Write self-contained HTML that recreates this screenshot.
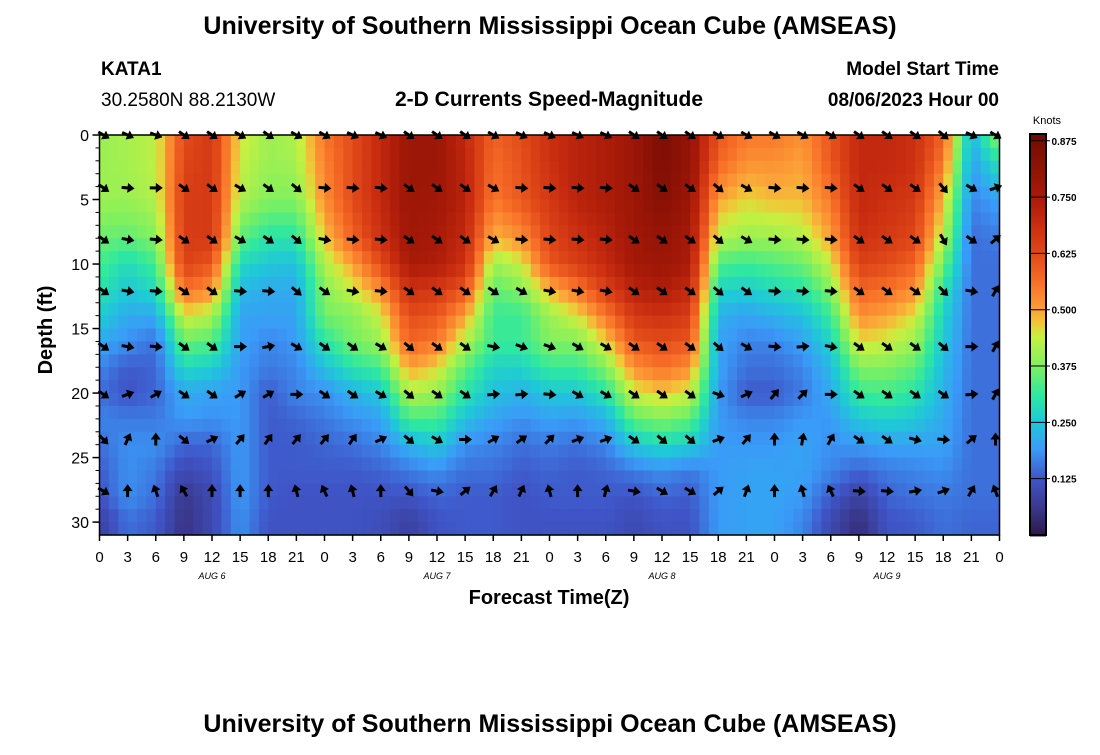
<!DOCTYPE html>
<html><head><meta charset="utf-8">
<style>
body{margin:0;background:#fff;width:1100px;height:750px;overflow:hidden;font-family:"Liberation Sans",Arial,sans-serif}
svg text{font-family:"Liberation Sans",Arial,sans-serif}
</style></head><body>
<svg id="chart" width="1100" height="750" xmlns="http://www.w3.org/2000/svg">
<text x="550" y="34" font-size="25" font-weight="bold" text-anchor="middle">University of Southern Mississippi Ocean Cube (AMSEAS)</text>
<text x="101" y="75" font-size="19" font-weight="bold">KATA1</text>
<text x="101" y="106" font-size="19">30.2580N  88.2130W</text>
<text x="549" y="106" font-size="21" font-weight="bold" text-anchor="middle">2-D Currents Speed-Magnitude</text>
<text x="999" y="75" font-size="19" font-weight="bold" text-anchor="end">Model Start Time</text>
<text x="999" y="106" font-size="19" font-weight="bold" text-anchor="end">08/06/2023 Hour 00</text>
<g id="heat"></g>
<g id="arrows"></g>
<g id="axes"></g>
<g id="cbar"></g>
<text transform="translate(52,330) rotate(-90)" font-size="20" font-weight="bold" text-anchor="middle">Depth (ft)</text>
<text x="549" y="604" font-size="20" font-weight="bold" text-anchor="middle">Forecast Time(Z)</text>
<text x="550" y="732" font-size="25" font-weight="bold" text-anchor="middle">University of Southern Mississippi Ocean Cube (AMSEAS)</text>
</svg>
<script>
// data
const times=[0,3,6,9,12,15,18,21,24,27,30,33,36,39,42,45,48,51,54,57,60,63,66,69,72,75,78,81,84,87,90,93,96];
const depths=[0,2,5,8,10,12,14,16,18,20,22,24,26,28,30];
const speedT0=[.40,.40,.40,.36,.33,.30,.26,.21,.17,.15,.17,.15,.13,.12,.08];
const speedT3=[.41,.41,.40,.35,.28,.25,.21,.18,.13,.12,.16,.18,.18,.18,.15];
const speedT6=[.43,.43,.42,.38,.33,.28,.21,.15,.14,.14,.16,.18,.16,.15,.13];
const speedT9=[.62,.63,.65,.65,.64,.56,.45,.36,.28,.21,.19,.14,.10,.06,.05];
const speedT12=[.66,.66,.66,.66,.60,.52,.42,.34,.26,.20,.18,.14,.12,.10,.10];
const speedT15=[.45,.44,.42,.35,.28,.23,.20,.20,.19,.19,.19,.19,.19,.19,.18];
const speedT18=[.40,.40,.38,.30,.25,.21,.20,.17,.16,.13,.13,.13,.13,.13,.12];
const speedT21=[.42,.41,.38,.30,.24,.21,.20,.19,.17,.17,.14,.13,.13,.12,.12];
const speedT24=[.55,.54,.52,.47,.42,.38,.37,.30,.24,.18,.16,.14,.13,.12,.12];
const speedT27=[.62,.62,.62,.58,.50,.44,.38,.37,.30,.22,.18,.15,.13,.12,.12];
const speedT30=[.70,.70,.70,.68,.62,.52,.44,.40,.33,.25,.20,.17,.14,.12,.11];
const speedT33=[.78,.78,.78,.77,.75,.68,.62,.58,.50,.42,.33,.22,.16,.12,.08];
const speedT36=[.78,.78,.77,.75,.74,.66,.60,.55,.46,.40,.33,.25,.18,.14,.12];
const speedT39=[.70,.71,.72,.70,.68,.60,.50,.42,.35,.30,.24,.18,.15,.13,.13];
const speedT42=[.58,.57,.55,.48,.40,.35,.32,.32,.27,.24,.20,.17,.15,.13,.13];
const speedT45=[.62,.61,.60,.52,.44,.38,.32,.32,.27,.22,.18,.15,.13,.12,.12];
const speedT48=[.68,.68,.66,.63,.60,.48,.40,.38,.32,.25,.20,.16,.14,.13,.12];
const speedT51=[.72,.72,.72,.68,.65,.55,.45,.38,.32,.25,.19,.15,.13,.13,.12];
const speedT54=[.74,.74,.74,.72,.70,.64,.55,.46,.38,.30,.22,.17,.14,.13,.12];
const speedT57=[.78,.78,.78,.77,.76,.72,.66,.60,.52,.44,.35,.25,.16,.12,.10];
const speedT60=[.86,.86,.84,.80,.78,.74,.68,.62,.56,.47,.38,.28,.18,.14,.12];
const speedT63=[.80,.80,.78,.76,.74,.70,.65,.60,.52,.44,.35,.26,.16,.13,.12];
const speedT66=[.60,.58,.50,.42,.34,.27,.22,.20,.20,.19,.19,.19,.19,.19,.19];
const speedT69=[.55,.52,.46,.40,.32,.26,.20,.17,.15,.13,.17,.19,.20,.20,.20];
const speedT72=[.55,.52,.48,.40,.34,.28,.22,.17,.15,.13,.17,.19,.20,.20,.20];
const speedT75=[.52,.50,.48,.42,.36,.30,.24,.20,.17,.16,.19,.20,.20,.19,.17];
const speedT78=[.60,.60,.55,.50,.44,.38,.32,.27,.23,.21,.19,.18,.17,.13,.10];
const speedT81=[.70,.70,.70,.68,.64,.58,.52,.46,.38,.32,.25,.19,.14,.08,.04];
const speedT84=[.70,.70,.68,.66,.62,.56,.50,.44,.38,.33,.27,.20,.16,.14,.12];
const speedT87=[.68,.68,.66,.63,.58,.52,.45,.40,.35,.30,.25,.20,.17,.15,.13];
const speedT90=[.58,.55,.48,.42,.36,.30,.27,.25,.23,.22,.21,.20,.18,.16,.15];
const speedT93=[.22,.20,.17,.15,.15,.15,.15,.15,.15,.15,.15,.15,.15,.15,.14];
const speedT96=[.40,.30,.20,.16,.15,.15,.15,.15,.15,.15,.15,.15,.15,.15,.14];
const speedCols=[speedT0,speedT3,speedT6,speedT9,speedT12,speedT15,speedT18,speedT21,speedT24,speedT27,speedT30,speedT33,speedT36,speedT39,speedT42,speedT45,speedT48,speedT51,speedT54,speedT57,speedT60,speedT63,speedT66,speedT69,speedT72,speedT75,speedT78,speedT81,speedT84,speedT87,speedT90,speedT93,speedT96];
// arrow directions (deg, 0=east, +=clockwise) at each 3-h time, per depth row
const arrowDepths=[0,4.1,8.1,12.1,16.4,20.1,23.6,27.6];
const dirRow0=[30,25,20,35,35,30,35,30,30,25,25,35,35,35,30,25,25,25,25,35,35,35,30,30,30,30,30,35,35,35,40,25,30];
const dirRow1=[35,5,0,35,35,30,35,40,5,5,5,35,35,35,30,5,5,5,5,35,35,35,40,30,5,5,5,35,35,35,50,30,-20];
const dirRow2=[35,10,5,35,35,30,35,40,10,5,5,35,35,35,30,5,5,5,5,35,35,35,40,30,5,5,5,35,35,35,60,35,-40];
const dirRow3=[35,10,5,35,35,5,5,40,35,10,5,35,35,35,35,30,10,10,10,35,35,35,40,35,5,5,5,35,35,35,45,10,-60];
const dirRow4=[35,10,5,35,35,0,-10,30,35,35,30,40,35,35,10,20,20,30,30,35,35,35,40,30,5,-5,10,35,35,35,40,0,-60];
const dirRow5=[35,-20,-30,35,35,-30,-30,0,35,35,30,40,35,35,-5,-5,5,30,30,35,35,35,20,-25,-50,-45,0,35,35,35,35,-5,-60];
const dirRow6=[45,-65,-90,40,-25,-50,-55,-50,-50,-55,-25,40,30,0,-30,-35,-45,-20,-20,35,40,40,-20,-50,-90,-80,-60,35,35,15,5,-40,-90];
const dirRow7=[30,-90,-110,-120,-90,-90,-90,-105,-115,-105,-90,50,10,-40,-60,-65,-105,-90,-75,10,30,30,-40,-70,-90,-105,-115,5,5,-10,-20,-60,-110];
const dirRows=[dirRow0,dirRow1,dirRow2,dirRow3,dirRow4,dirRow5,dirRow6,dirRow7];
const xTickLabels=["0","3","6","9","12","15","18","21","0","3","6","9","12","15","18","21","0","3","6","9","12","15","18","21","0","3","6","9","12","15","18","21","0"];
const yTicks=[0,5,10,15,20,25,30];
const dayLabels=["AUG 6","AUG 7","AUG 8","AUG 9"];
const dayCenters=[12,36,60,84];
const cbarTicks=[0.125,0.25,0.375,0.5,0.625,0.75,0.875];

const NS="http://www.w3.org/2000/svg";
const X0=99.5,X1=999.5,Y0=135,Y1=535,TMAX=96,DMAX=31;
const xs=t=>X0+(X1-X0)*t/TMAX;
const ys=d=>Y0+(Y1-Y0)*d/DMAX;
const stops=[[0,[43,24,70]],[0.06,[58,56,140]],[0.125,[63,85,200]],[0.19,[58,155,248]],[0.25,[31,200,216]],[0.31,[46,232,160]],[0.375,[126,240,96]],[0.44,[200,240,64]],[0.47,[240,200,56]],[0.5,[252,160,56]],[0.56,[248,112,40]],[0.625,[224,72,24]],[0.69,[200,44,16]],[0.75,[168,26,8]],[0.875,[120,12,4]],[0.9,[104,8,8]]];
function color(v){
  if(v<=stops[0][0])return `rgb(${stops[0][1]})`;
  for(let i=1;i<stops.length;i++){if(v<=stops[i][0]){const a=stops[i-1],b=stops[i],f=(v-a[0])/(b[0]-a[0]);
    return `rgb(${a[1].map((c,k)=>Math.round(c+(b[1][k]-c)*f)).join(',')})`;}}
  return `rgb(${stops[stops.length-1][1]})`;
}
function mk(tag,attrs,parent){const e=document.createElementNS(NS,tag);for(const k in attrs)e.setAttribute(k,attrs[k]);parent.appendChild(e);return e;}
function idx(arr,v){let i=0;while(i<arr.length-2&&v>arr[i+1])i++;const f=Math.max(0,Math.min(1,(v-arr[i])/(arr[i+1]-arr[i])));return [i,f];}
function sample(t,d){
  const [i,fi]=idx(times,t),[j,fj]=idx(depths,Math.min(d,30));
  const a=speedCols[i][j],b=speedCols[i][j+1],c=speedCols[i+1][j],e=speedCols[i+1][j+1];
  return (a*(1-fj)+b*fj)*(1-fi)+(c*(1-fj)+e*fj)*fi;
}
const heat=document.getElementById('heat');
for(let h=0;h<96;h++){for(let d=0;d<31;d++){
  const r=mk('rect',{x:xs(h).toFixed(2),y:ys(d).toFixed(2),width:(xs(h+1)-xs(h)+0.6).toFixed(2),height:(ys(d+1)-ys(d)+0.6).toFixed(2),fill:color(sample(h+0.5,d+0.5))},heat);
  
  
}}
const arrows=document.getElementById('arrows');
dirRows.forEach((row,ri)=>{row.forEach((ang,ci)=>{
  const cx=xs(times[ci])+(ci===0?4:ci===32?-4:0),cy=ys(arrowDepths[ri]);
  const g=mk('g',{transform:`translate(${cx.toFixed(1)},${cy.toFixed(1)}) rotate(${ang})`},arrows);
  
  
  mk('line',{x1:-6,y1:0,x2:3,y2:0,stroke:'#000','stroke-width':3},g);
  mk('polygon',{points:'7,0 0,-5 0,5',fill:'#000'},g);
});});
const axes=document.getElementById('axes');
mk('rect',{x:X0,y:Y0,width:X1-X0,height:Y1-Y0,fill:'none',stroke:'#000','stroke-width':1.5},axes);
times.forEach((t,i)=>{
  mk('line',{x1:xs(t),y1:Y1,x2:xs(t),y2:Y1+6,stroke:'#000','stroke-width':1.5},axes);
  const l=mk('text',{x:xs(t),y:562,'font-size':15,'text-anchor':'middle'},axes);l.textContent=xTickLabels[i];
  
  
});
for(let d=1;d<31;d++){mk('line',{x1:X0-4,y1:ys(d),x2:X0,y2:ys(d),stroke:'#000','stroke-width':1},axes);}
yTicks.forEach(v=>{
  mk('line',{x1:X0-7,y1:ys(v),x2:X0,y2:ys(v),stroke:'#000','stroke-width':1.5},axes);
  const l=mk('text',{x:89,y:ys(v)+6,'font-size':16,'text-anchor':'end'},axes);l.textContent=v;
  
  
});
dayLabels.forEach((s,i)=>{
  const l=mk('text',{x:xs(dayCenters[i]),y:579,'font-size':9,'font-style':'italic','text-anchor':'middle','font-family':'Liberation Serif,serif'},axes);l.textContent=s;
  
  
});
const cb=document.getElementById('cbar');
const CX=1030,CW=16,CT=134,CB=535,VMAX=0.89;
const cy=v=>CB-(CB-CT)*v/VMAX;
for(let p=CT;p<CB;p+=2){mk('rect',{x:CX,y:p,width:CW,height:2.5,fill:color((CB-p-1)/(CB-CT)*VMAX)},cb);}
mk('rect',{x:CX,y:CT,width:CW,height:CB-CT,fill:'none',stroke:'#000','stroke-width':2},cb);
cbarTicks.forEach(v=>{
  mk('line',{x1:CX,y1:cy(v),x2:CX+20,y2:cy(v),stroke:'#000','stroke-width':1},cb);
  const l=mk('text',{x:1064,y:cy(v)+4,'font-size':10,'font-weight':'bold','text-anchor':'middle'},cb);l.textContent=v.toFixed(3);
  
  
});
const cl=mk('text',{x:1047,y:124,'font-size':11,'text-anchor':'middle'},cb);cl.textContent='Knots';


</script>
</body></html>
